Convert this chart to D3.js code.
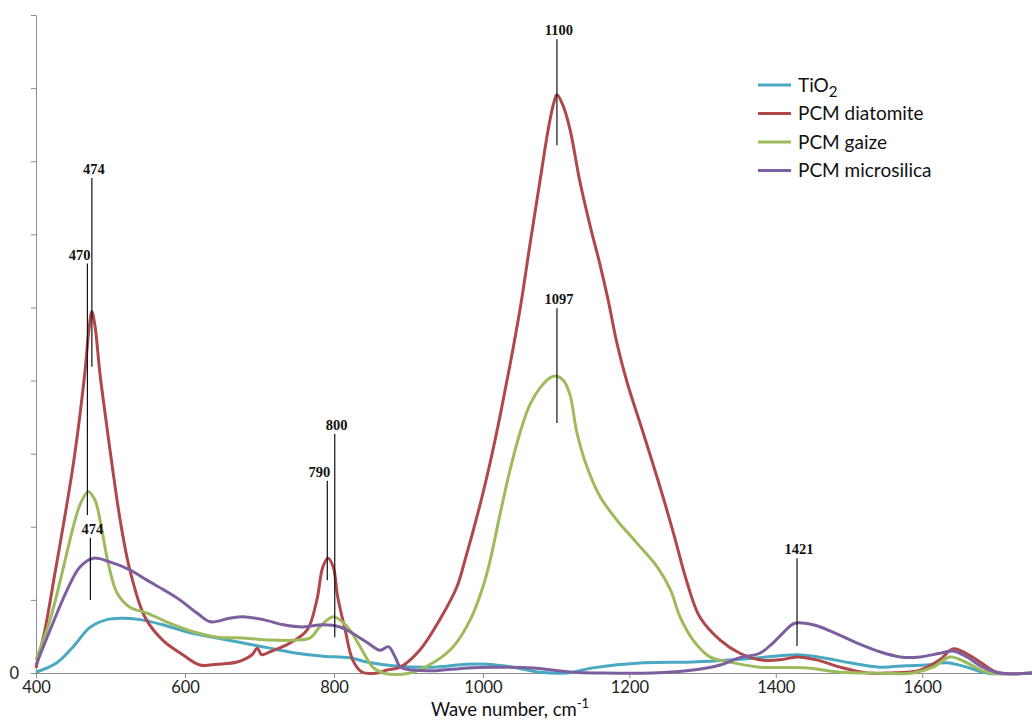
<!DOCTYPE html>
<html lang="en">
<head>
<meta charset="utf-8">
<script src="https://d3js.org/d3.v7.min.js"></script>
<style>
  body { margin: 0; background: #fff; }
  .axis path, .axis line { stroke: #8c8c8c; }
  .axis text { font-family: Lato, "Liberation Sans", sans-serif; font-size: 16.5px; fill: #222; }
  .peak { font-family: "Liberation Serif", "DejaVu Serif", serif; font-weight: bold; font-size: 14.5px; fill: #111; }
</style>
</head>
<body>
<script>
// wave number (cm-1), intensity (arb. units, 1 unit = one y tick)
var tio2 = [[400,0.01],[428,0.14],[450,0.36],[472,0.62],[495,0.73],[513,0.75],[540,0.73],[570,0.66],[607,0.55],[643,0.48],[678,0.41],[714,0.34],[750,0.27],[785,0.23],[821,0.21],[844,0.15],[879,0.10],[933,0.08],[978,0.12],[1005,0.12],[1041,0.08],[1078,0.01],[1115,0],[1150,0.07],[1219,0.14],[1287,0.15],[1341,0.18],[1378,0.21],[1429,0.25],[1464,0.21],[1501,0.14],[1542,0.08],[1579,0.10],[1606,0.11],[1634,0.14],[1661,0.08],[1688,0],[1750,0]];

var diatomite = [[400,0.07],[412,0.59],[425,1.34],[439,2.16],[450,2.85],[459,3.53],[466,4.15],[471,4.69],[475,4.94],[479,4.76],[486,4.08],[493,3.53],[503,2.78],[513,2.09],[526,1.41],[546,0.77],[570,0.45],[597,0.25],[620,0.11],[643,0.12],[670,0.15],[690,0.25],[697,0.34],[703,0.25],[714,0.29],[741,0.41],[764,0.59],[777,1.0],[785,1.45],[792,1.57],[799,1.45],[805,1.04],[815,0.59],[825,0.18],[838,0.01],[858,0],[871,0.04],[889,0.08],[915,0.31],[942,0.73],[965,1.18],[976,1.55],[996,2.3],[1010,2.89],[1023,3.5],[1037,4.22],[1051,5.0],[1064,5.85],[1078,6.74],[1089,7.43],[1096,7.77],[1101,7.91],[1109,7.77],[1119,7.43],[1132,6.74],[1146,6.13],[1160,5.58],[1171,5.1],[1183,4.51],[1197,3.97],[1219,3.28],[1242,2.54],[1260,1.92],[1279,1.23],[1296,0.77],[1324,0.45],[1351,0.27],[1378,0.18],[1406,0.18],[1429,0.22],[1456,0.18],[1488,0.08],[1525,0],[1556,0],[1597,0.04],[1624,0.18],[1642,0.33],[1656,0.29],[1679,0.15],[1702,0.01],[1750,0]];

var gaize = [[400,0.18],[419,0.73],[436,1.41],[450,2.0],[459,2.3],[470,2.48],[479,2.37],[486,2.09],[497,1.5],[509,1.09],[526,0.9],[549,0.82],[580,0.68],[616,0.55],[643,0.49],[678,0.48],[714,0.45],[750,0.45],[768,0.48],[781,0.63],[799,0.77],[818,0.63],[835,0.36],[852,0.08],[866,0],[902,0],[933,0.14],[960,0.36],[983,0.73],[1000,1.18],[1010,1.55],[1023,2.16],[1037,2.78],[1051,3.3],[1064,3.67],[1078,3.9],[1092,4.04],[1101,4.06],[1110,4.0],[1119,3.8],[1128,3.3],[1142,2.82],[1160,2.41],[1183,2.09],[1210,1.78],[1238,1.45],[1256,1.14],[1269,0.77],[1287,0.45],[1310,0.22],[1342,0.14],[1378,0.08],[1443,0.07],[1488,0.01],[1533,0],[1587,0],[1615,0.08],[1638,0.22],[1661,0.14],[1689,0.01],[1750,0]];

var microsilica = [[400,0.11],[419,0.59],[442,1.14],[459,1.45],[477,1.57],[499,1.52],[526,1.41],[549,1.27],[571,1.14],[593,1.0],[616,0.82],[634,0.7],[660,0.75],[678,0.77],[705,0.73],[732,0.66],[758,0.63],[785,0.66],[808,0.63],[822,0.56],[844,0.42],[862,0.31],[873,0.36],[882,0.22],[889,0.08],[906,0.04],[933,0.03],[979,0.07],[1014,0.08],[1068,0.07],[1123,0.01],[1160,0],[1231,0],[1287,0.04],[1324,0.11],[1351,0.21],[1378,0.27],[1396,0.41],[1410,0.55],[1426,0.68],[1451,0.66],[1478,0.56],[1511,0.41],[1542,0.29],[1570,0.22],[1597,0.22],[1624,0.27],[1642,0.3],[1661,0.22],[1683,0.08],[1706,0],[1750,0]];

var seriesNames = ["TiO2", "PCM diatomite", "PCM gaize", "PCM microsilica"];
var seriesData = [tio2, diatomite, gaize, microsilica];
var colors = ["#4aa8c2", "#b0474a", "#9dbb5c", "#7d5fa0"];

var xTicks = [400, 600, 800, 1000, 1200, 1400, 1600];

// peak marks: wave, label, line top, line bottom
var peakWave = [475, 469, 473, 791, 801, 1101, 1101, 1429];
var peakLabel = ["474", "470", "474", "790", "800", "1100", "1097", "1421"];
var peakTop = [6.77, 5.6, 1.85, 2.63, 3.27, 8.67, 4.99, 1.57];
var peakBottom = [4.19, 2.16, 1.0, 1.27, 0.49, 7.22, 3.42, 0.37];

var width = 1032, height = 720;

var svg = d3.select("body").append("svg")
    .attr("width", width)
    .attr("height", height);

// the scanned axis is a bit uneven, so two segments
var x = d3.scaleLinear()
    .domain([400, 1000, 1750])
    .range([36, 483, 1032]);
var y = d3.scaleLinear()
    .domain([0, 9])
    .range([673, 15]);

svg.append("g")
    .attr("class", "axis")
    .attr("transform", "translate(0," + y(0) + ")")
    .call(d3.axisBottom(x).tickValues(xTicks).tickSize(5).tickPadding(3).tickSizeOuter(0)
        .tickFormat(d3.format("d")));

svg.append("g")
    .attr("class", "axis")
    .attr("transform", "translate(" + x(400) + ",0)")
    .call(d3.axisLeft(y).ticks(9).tickSize(5).tickPadding(12).tickSizeOuter(0)
        .tickFormat(function(d) { return d === 0 ? "0" : ""; }));

var line = d3.line()
    .x(function(d) { return x(d[0]); })
    .y(function(d) { return y(d[1]); })
    .curve(d3.curveCatmullRom.alpha(0.5));

svg.selectAll(".series")
    .data(seriesData)
    .enter()
    .append("path")
    .attr("class", "series")
    .attr("d", line)
    .attr("fill", "none")
    .attr("stroke", function(d, i) { return colors[i]; })
    .attr("stroke-width", 3)
    .attr("stroke-linejoin", "round");

// peak markers
var peaks = svg.selectAll(".pk")
    .data(peakWave)
    .enter()
    .append("g")
    .attr("class", "pk");
peaks.append("line")
    .attr("x1", function(d) { return x(d); })
    .attr("x2", function(d) { return x(d); })
    .attr("y1", function(d, i) { return y(peakTop[i]); })
    .attr("y2", function(d, i) { return y(peakBottom[i]); })
    .attr("stroke", "#111")
    .attr("stroke-width", 1.2);
peaks.append("text")
    .attr("class", "peak")
    .attr("x", function(d, i) {
        // 470 and 790 sit left of their line
        return (peakLabel[i] === "470" || peakLabel[i] === "790") ? x(d) + 3 : x(d) + 2;
    })
    .attr("y", function(d, i) { return y(peakTop[i]) - 4; })
    .attr("text-anchor", function(d, i) {
        return (peakLabel[i] === "470" || peakLabel[i] === "790") ? "end" : "middle";
    })
    .text(function(d, i) { return peakLabel[i]; });

// legend
var legend = svg.append("g")
    .attr("transform", "translate(758,85)");
var item = legend.selectAll("g")
    .data(seriesNames)
    .enter()
    .append("g")
    .attr("transform", function(d, i) { return "translate(0," + (i * 28.5) + ")"; });
item.append("line")
    .attr("x1", 0).attr("x2", 33)
    .attr("stroke", function(d, i) { return colors[i]; })
    .attr("stroke-width", 3);
var lt = item.append("text")
    .attr("x", 40)
    .attr("dy", "0.35em")
    .style("font-family", "Lato, 'Liberation Sans', sans-serif")
    .style("font-size", "19px")
    .attr("fill", "#111");
lt.each(function(d) {
    var t = d3.select(this);
    if (d === "TiO2") {
        t.append("tspan").text("TiO");
        t.append("tspan").attr("dy", 5).style("font-size", "15px").text("2");
    } else {
        t.text(d);
    }
});

// axis title
var title = svg.append("text")
    .attr("x", 510)
    .attr("y", 716)
    .attr("text-anchor", "middle")
    .style("font-family", "Lato, 'Liberation Sans', sans-serif")
    .style("font-size", "18.5px")
    .attr("fill", "#111");
title.append("tspan").text("Wave number, cm");
title.append("tspan").attr("dy", -8).style("font-size", "13px").text("-1");
</script>
</body>
</html>
